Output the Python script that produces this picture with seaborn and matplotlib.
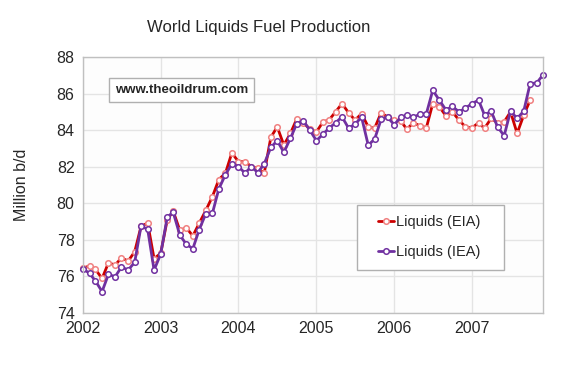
import pandas as pd
import matplotlib.pyplot as plt
import matplotlib.patches as mpatches
import seaborn as sns

# monthly values, Jan 2002 onwards (million b/d)
eia = [76.42, 76.56, 76.36, 75.87, 76.73, 76.6, 77.0, 76.82, 77.33, 78.73, 78.9, 76.96,
       77.24, 79.1, 79.55, 78.5, 78.65, 78.2, 78.9, 79.6, 80.36, 81.29, 81.64, 82.75,
       82.27, 82.27, 82.0, 81.9, 81.64, 83.6, 84.18, 83.18, 83.82, 84.62, 84.4, 84.05,
       83.9, 84.45, 84.55, 85.0, 85.45, 84.95, 84.55, 84.9, 84.18, 84.1, 84.96, 84.7,
       84.55, 84.5, 84.05, 84.4, 84.24, 84.13, 85.45, 85.27, 84.78, 85.0, 84.55, 84.18,
       84.12, 84.4, 84.1, 84.64, 84.4, 84.45, 85.0, 83.82, 84.82, 85.64]
iea = [76.4, 76.15, 75.73, 75.15, 76.1, 75.96, 76.5, 76.33, 76.75, 78.75, 78.56, 76.33,
       77.2, 79.24, 79.49, 78.24, 77.75, 77.5, 78.55, 79.42, 79.45, 80.78, 81.56, 82.15,
       82.0, 81.64, 82.0, 81.67, 82.15, 83.05, 83.42, 82.78, 83.55, 84.36, 84.5, 84.0,
       83.42, 83.78, 84.1, 84.4, 84.73, 84.1, 84.33, 84.7, 83.18, 83.5, 84.6, 84.7,
       84.3, 84.7, 84.82, 84.7, 84.87, 84.9, 86.18, 85.64, 85.1, 85.3, 85.0, 85.2,
       85.45, 85.64, 84.82, 85.04, 84.18, 83.69, 85.04, 84.64, 85.04, 86.55, 86.58, 87.04]
years = [2002, 2003, 2004, 2005, 2006, 2007]

df_eia = pd.DataFrame({'date': pd.date_range('2002-01-01', periods=len(eia), freq='MS'), 'val': eia})
df_iea = pd.DataFrame({'date': pd.date_range('2002-01-01', periods=len(iea), freq='MS'), 'val': iea})

sns.set_style("whitegrid")
plt.rcParams['font.family'] = ['Liberation Sans', 'DejaVu Sans']

fig = plt.figure(figsize=(5.64, 3.66), dpi=100)
ax = fig.add_axes([0.147, 0.146, 0.816, 0.698])
ax.set_facecolor('#fdfdfd')

sns.lineplot(x='date', y='val', data=df_eia, ax=ax, color='#cc0000', linewidth=2,
             marker='o', markersize=4, markerfacecolor='white', markeredgecolor='#f08080',
             markeredgewidth=1.1, label='Liquids (EIA)', clip_on=False)
sns.lineplot(x='date', y='val', data=df_iea, ax=ax, color='#7030a0', linewidth=2,
             marker='o', markersize=4, markerfacecolor='white', markeredgecolor='#7030a0',
             markeredgewidth=1.1, label='Liquids (IEA)', clip_on=False)

ax.set_xlim(pd.Timestamp('2002-01-01'), pd.Timestamp('2007-12-01'))
ax.set_ylim(74, 88)
ax.set_yticks(range(74, 89, 2))
ax.set_xticks([pd.Timestamp(f'{y}-01-01') for y in years])
ax.set_xticklabels([str(y) for y in years])
ax.tick_params(axis='both', labelsize=11.5, length=0, pad=6)
ax.grid(True, color='#e4e4e4', linewidth=1)
for s in ax.spines.values():
    s.set_color('#c0c0c0')
    s.set_linewidth(1)

ax.set_xlabel('')
ax.set_ylabel('Million b/d', fontsize=11.5, labelpad=20)
fig.text(0.458, 0.925, 'World Liquids Fuel Production', ha='center', va='center', fontsize=12)

ax.text(0.215, 0.871, 'www.theoildrum.com', transform=ax.transAxes, ha='center', va='center',
        fontsize=9.5, fontweight='bold',
        bbox=dict(boxstyle='square,pad=0.45', facecolor='white', edgecolor='#b0b0b0'))

# legend box drawn separately so its padding matches the original
ax.add_patch(mpatches.Rectangle((0.596, 0.166), 0.319, 0.255, transform=ax.transAxes,
                                facecolor='white', edgecolor='#b0b0b0', linewidth=1, zorder=4))
leg = ax.legend(loc='center', bbox_to_anchor=(0.752, 0.295), fontsize=10.5, frameon=False,
                handlelength=1.1, handletextpad=0.1, labelspacing=1.1, borderpad=0)
leg.set_zorder(5)

plt.savefig('out.png', dpi=100)
